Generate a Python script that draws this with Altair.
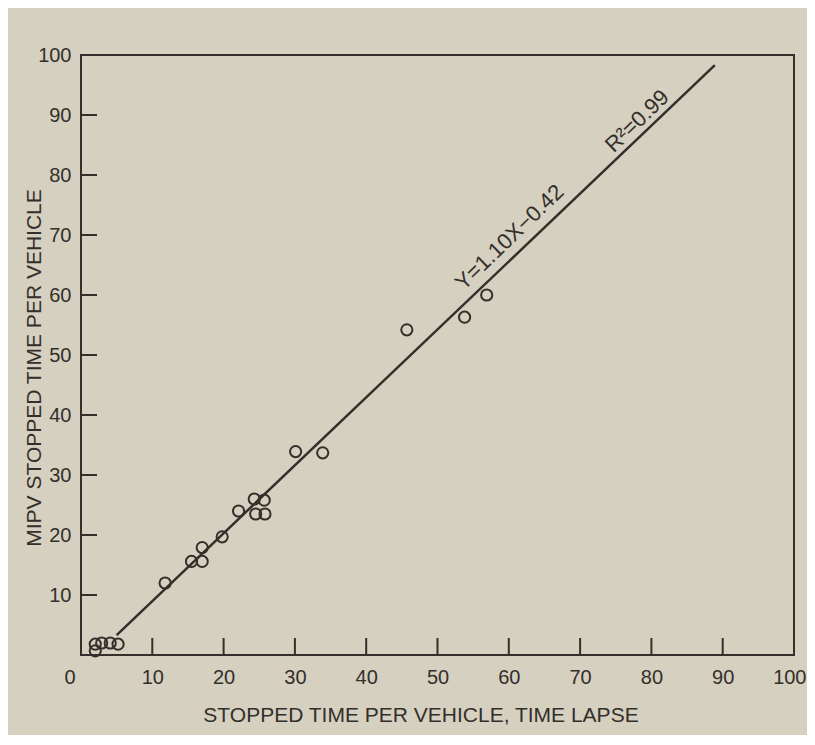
import altair as alt
import pandas as pd

x_vals = [2.0, 2.9, 4.1, 5.2, 2.0, 11.8, 15.5, 17.0, 17.0, 19.8, 22.1, 24.3, 25.7, 24.5, 25.8, 30.1, 33.9, 45.7, 53.8, 56.9]
y_vals = [1.8, 2.0, 2.0, 1.8, 0.7, 12.0, 15.6, 17.9, 15.6, 19.7, 24.0, 26.0, 25.8, 23.5, 23.5, 33.9, 33.7, 54.2, 56.3, 60.0]

# regression line as drawn
fit_x = [5.0, 88.9]
fit_y = [3.3, 98.3]

tick_vals = [10, 20, 30, 40, 50, 60, 70, 80, 90]
x_label_vals = [10, 20, 30, 40, 50, 60, 70, 80, 90, 100]
y_label_vals = [10, 20, 30, 40, 50, 60, 70, 80, 90, 100]
origin_label = ["0"]

notes = ["Y=1.10X\u22120.42", "R\u00b2=0.99"]
note_x = [60.1, 78.0]
note_y = [69.6, 89.0]

INK = "#332f2b"
BG = "#d6d0c0"
FONT = "Liberation Sans"
W, H = 713, 600

xs = alt.Scale(domain=[0, 100], nice=False, zero=False)
ys = alt.Scale(domain=[0, 100], nice=False, zero=False)

x_axis = alt.Axis(
    values=x_label_vals, ticks=False, tickSize=0, domain=False, grid=False,
    labelFlush=True, labelFlushOffset=12, labelPadding=28, labelBaseline="alphabetic",
    labelFontSize=20, labelColor=INK, labelFont=FONT,
    title="STOPPED TIME PER VEHICLE, TIME LAPSE", titleFontSize=21, titleFontWeight="normal",
    titleFont=FONT, titleColor=INK, titleX=339.5, titleY=66, titleBaseline="alphabetic",
    titleAlign="center",
)
y_axis = alt.Axis(
    values=y_label_vals, ticks=False, tickSize=0, domain=False, grid=False,
    labelPadding=10, labelFontSize=20, labelColor=INK, labelFont=FONT,
    title="MIPV STOPPED TIME PER VEHICLE", titleFontSize=21, titleFontWeight="normal",
    titleFont=FONT, titleColor=INK, titleX=-41, titleY=312.5, titleBaseline="alphabetic",
    titleAngle=270, titleAlign="center",
)

pts_df = pd.DataFrame({"x": x_vals, "y": y_vals})
fit_df = pd.DataFrame({"x": fit_x, "y": fit_y})
tick_df = pd.DataFrame({"v": tick_vals})
note_df = pd.DataFrame({"x": note_x, "y": note_y, "t": notes})
origin_df = pd.DataFrame({"x": [0], "y": [0], "t": origin_label})

points = alt.Chart(pts_df).mark_point(
    shape="circle", filled=False, size=125, strokeWidth=2, color=INK, opacity=1
).encode(
    x=alt.X("x:Q", scale=xs, axis=x_axis),
    y=alt.Y("y:Q", scale=ys, axis=y_axis),
)

line = alt.Chart(fit_df).mark_line(color=INK, strokeWidth=2.5).encode(
    x=alt.X("x:Q", scale=xs), y=alt.Y("y:Q", scale=ys)
)

xticks = alt.Chart(tick_df).mark_rule(color=INK, strokeWidth=2).encode(
    x=alt.X("v:Q", scale=xs), y=alt.value(H), y2=alt.value(H - 17)
)
yticks = alt.Chart(tick_df).mark_rule(color=INK, strokeWidth=2).encode(
    y=alt.Y("v:Q", scale=ys), x=alt.value(0), x2=alt.value(16)
)

labels = alt.Chart(note_df).mark_text(
    angle=316, fontSize=22, font=FONT, color=INK, align="center", baseline="middle"
).encode(
    x=alt.X("x:Q", scale=xs), y=alt.Y("y:Q", scale=ys), text="t:N"
)

origin = alt.Chart(origin_df).mark_text(
    fontSize=20, font=FONT, color=INK, align="center", baseline="alphabetic", dx=-11, dy=29
).encode(
    x=alt.X("x:Q", scale=xs), y=alt.Y("y:Q", scale=ys), text="t:N"
)

chart = alt.layer(line, xticks, yticks, points, labels, origin).properties(
    width=W, height=H,
    autosize=alt.AutoSizeParams(type="none"),
    padding={"left": 73, "top": 47, "right": 13, "bottom": 80},
    background=BG,
).configure_view(stroke=INK, strokeWidth=2)

chart.save("out.html", embed_options={"renderer": "svg", "actions": False})
